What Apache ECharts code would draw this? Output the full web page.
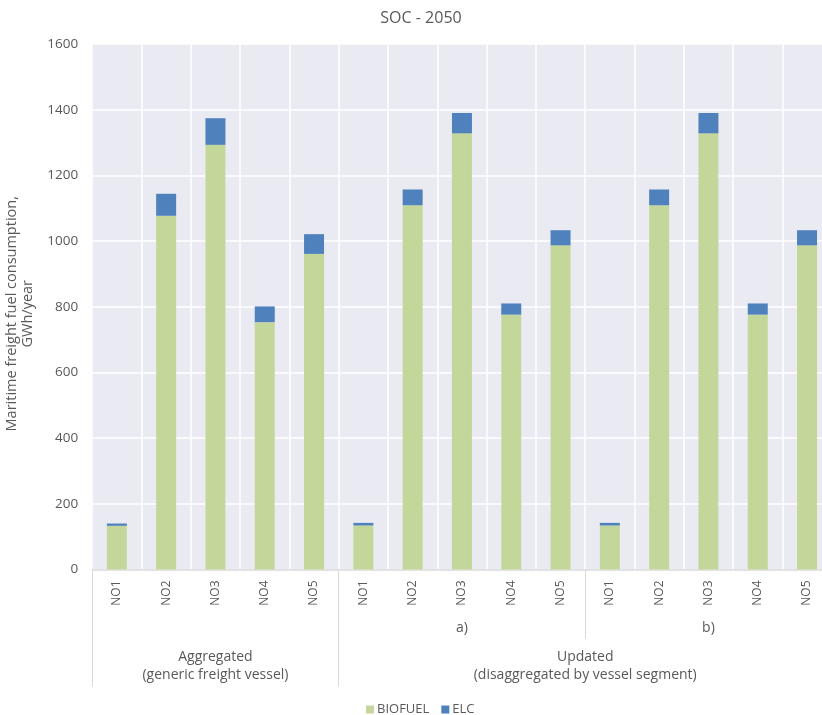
<!DOCTYPE html>
<html>
<head>
<meta charset="utf-8">
<title>SOC - 2050</title>
<script src="https://cdn.jsdelivr.net/npm/echarts@6/dist/echarts.min.js"></script>
<style>
  html, body { margin: 0; padding: 0; background: #ffffff; }
  #chart { width: 822px; height: 715px; }
</style>
</head>
<body>
<div id="chart"></div>
<script>
// Regions (bidding zones), repeated for each scenario block
const regions = ['NO1', 'NO2', 'NO3', 'NO4', 'NO5'];
const categories = regions.concat(regions, regions);

// Maritime freight fuel consumption, GWh/year
const biofuel = [133, 1077, 1293, 753, 961, 134, 1109, 1328, 776, 987, 134, 1109, 1328, 776, 987];
const elc = [7, 67, 81, 48, 60, 8, 48, 62, 34, 46, 8, 48, 62, 34, 46];

// Group labels under the category axis (positions in category units)
const outerGroups = { 2.5: 'Aggregated\n(generic freight vessel)', 10: 'Updated\n(disaggregated by vessel segment)' };
const outerBounds = [0, 5, 15];
const innerGroups = { 7.5: 'a)', 12.5: 'b)' };
const innerBounds = [10];

const yTicks = { min: 0, max: 1600, interval: 200 };

const textColor = '#595959';
const fontFamily = '"Open Sans", "Noto Sans", sans-serif';

const chart = echarts.init(document.getElementById('chart'), null, { renderer: 'canvas' });

chart.setOption({
  animation: false,
  textStyle: { fontFamily: fontFamily, color: textColor },
  title: {
    text: 'SOC - 2050',
    left: 416,
    top: 5,
    textAlign: 'center',
    textStyle: { fontSize: 16, fontWeight: 'normal', color: textColor, fontFamily: fontFamily }
  },
  legend: {
    left: 361,
    top: 698,
    icon: 'rect',
    itemWidth: 8,
    itemHeight: 8,
    itemGap: 12,
    textStyle: { fontSize: 13, color: textColor, fontFamily: fontFamily, padding: [0, 0, 0, -2] },
    data: ['BIOFUEL', 'ELC']
  },
  grid: {
    left: 92.2,
    top: 44,
    width: 739.5,
    height: 525.5,
    containLabel: false,
    outerBoundsMode: 'none',
    show: true,
    backgroundColor: '#EAEAF2',
    borderWidth: 0
  },
  xAxis: [
    {
      type: 'category',
      data: categories,
      position: 'bottom',
      axisLine: { show: true, lineStyle: { color: '#D9D9D9', width: 1.5 } },
      axisTick: { show: false },
      splitLine: { show: true, interval: 0, lineStyle: { color: '#FFFFFF', width: 1.5 } },
      axisLabel: {
        interval: 0,
        rotate: 90,
        margin: 11,
        fontSize: 12,
        color: textColor,
        fontFamily: fontFamily
      }
    },
    {
      type: 'value',
      min: 0,
      max: 15,
      position: 'bottom',
      axisLine: { show: false },
      splitLine: { show: false },
      axisTick: {
        show: true,
        customValues: innerBounds,
        length: 69,
        lineStyle: { color: '#D9D9D9', width: 1 }
      },
      axisLabel: {
        customValues: Object.keys(innerGroups).map(Number),
        formatter: function (v) { return innerGroups[v] || ''; },
        margin: 52,
        fontSize: 14,
        color: textColor,
        fontFamily: fontFamily
      }
    },
    {
      type: 'value',
      min: 0,
      max: 15,
      position: 'bottom',
      axisLine: { show: false },
      splitLine: { show: false },
      axisTick: {
        show: true,
        customValues: outerBounds,
        length: 117,
        lineStyle: { color: '#D9D9D9', width: 1 }
      },
      axisLabel: {
        customValues: Object.keys(outerGroups).map(Number),
        formatter: function (v) { return outerGroups[v] || ''; },
        margin: 79,
        fontSize: 14,
        lineHeight: 18,
        color: textColor,
        fontFamily: fontFamily
      }
    }
  ],
  yAxis: {
    type: 'value',
    min: yTicks.min,
    max: yTicks.max,
    interval: yTicks.interval,
    name: 'Maritime freight fuel consumption,\nGWh/year',
    nameLocation: 'middle',
    nameGap: 46,
    nameTextStyle: {
      fontSize: 14.5,
      lineHeight: 16.5,
      color: textColor,
      fontFamily: fontFamily,
      padding: [0, 14, 0, 0]
    },
    axisLine: { show: false },
    axisTick: { show: false },
    splitLine: { show: true, lineStyle: { color: '#FFFFFF', width: 1.5 } },
    axisLabel: {
      margin: 14,
      fontSize: 13.5,
      color: textColor,
      fontFamily: fontFamily,
      formatter: function (v) { return String(v); }
    }
  },
  series: [
    {
      name: 'BIOFUEL',
      type: 'bar',
      stack: 'fuel',
      xAxisIndex: 0,
      barWidth: 20,
      itemStyle: { color: '#C4D79B' },
      data: biofuel
    },
    {
      name: 'ELC',
      type: 'bar',
      stack: 'fuel',
      xAxisIndex: 0,
      barWidth: 20,
      itemStyle: { color: '#4F81BD' },
      data: elc
    }
  ]
});
</script>
</body>
</html>
